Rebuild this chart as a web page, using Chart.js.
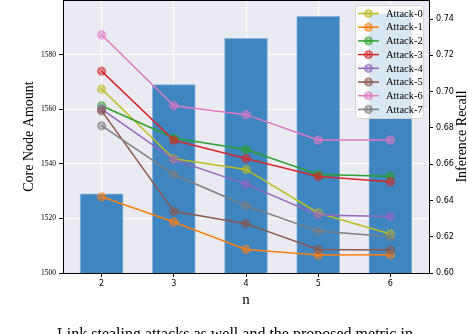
<!DOCTYPE html>
<html>
<head>
<meta charset="utf-8">
<script src="https://cdn.jsdelivr.net/npm/chart.js@4"></script>
<style>
  html, body { margin: 0; padding: 0; background: #fff; overflow: hidden; }
  #wrap { position: relative; width: 468px; height: 334px; }
</style>
</head>
<body>
<div id="wrap"><canvas id="Chart" width="468" height="334"></canvas></div>
<script>
// values
const nValues = [2, 3, 4, 5, 6];
const coreNodes = [1529, 1569, 1586, 1594, 1595];

const attackLabels = ['Attack-0', 'Attack-1', 'Attack-2', 'Attack-3', 'Attack-4', 'Attack-5', 'Attack-6', 'Attack-7'];
const attack0 = [0.7014, 0.6630, 0.6571, 0.6331, 0.6215];
const attack1 = [0.6420, 0.6281, 0.6130, 0.6099, 0.6101];
const attack2 = [0.6922, 0.6744, 0.6681, 0.6543, 0.6534];
const attack3 = [0.7113, 0.6732, 0.6631, 0.6532, 0.6503];
const attack4 = [0.6904, 0.6625, 0.6490, 0.6320, 0.6312];
const attack5 = [0.6894, 0.6340, 0.6272, 0.6130, 0.6127];
const attack6 = [0.7313, 0.6922, 0.6873, 0.6733, 0.6733];
const attack7 = [0.6812, 0.6543, 0.6371, 0.6231, 0.6200];

const leftTicks = [1500, 1520, 1540, 1560, 1580];
const rightTicks = [0.60, 0.62, 0.64, 0.66, 0.68, 0.70, 0.72, 0.74];

const attackSeries = [attack0, attack1, attack2, attack3, attack4, attack5, attack6, attack7];
const attackColors = ['#bcbd22', '#ff7f0e', '#2ca02c', '#d62728', '#9467bd', '#8c564b', '#e377c2', '#7f7f7f'];

const serif = '"Liberation Serif", "DejaVu Serif", serif';
const sans = '"DejaVu Sans", sans-serif';

// circle-with-cross marker
function makeMarker(color) {
  const c = document.createElement('canvas');
  c.width = 11; c.height = 11;
  const g = c.getContext('2d');
  g.strokeStyle = color;
  g.lineWidth = 1.1;
  g.globalAlpha = 0.35;
  g.fillStyle = color;
  g.beginPath(); g.arc(5.5, 5.5, 3.8, 0, Math.PI * 2); g.fill();
  g.globalAlpha = 1;
  g.beginPath(); g.arc(5.5, 5.5, 3.8, 0, Math.PI * 2); g.stroke();
  g.beginPath();
  g.moveTo(3, 3); g.lineTo(8, 8);
  g.moveTo(8, 3); g.lineTo(3, 8);
  g.lineWidth = 0.8;
  g.stroke();
  return c;
}
const markers = attackColors.map(makeMarker);

const lineSets = attackSeries.map((vals, i) => ({
  type: 'line',
  label: attackLabels[i],
  data: nValues.map((n, j) => ({ x: n, y: vals[j] })),
  yAxisID: 'y1',
  borderColor: attackColors[i],
  backgroundColor: attackColors[i],
  borderWidth: 1.5,
  pointStyle: markers[i],
  pointRadius: 4,
  tension: 0,
  order: 8 - i
}));

const barSet = {
  type: 'bar',
  label: 'Core Node Amount',
  data: nValues.map((n, j) => ({ x: n, y: coreNodes[j] })),
  yAxisID: 'y',
  backgroundColor: 'rgb(63,133,191)',
  borderColor: 'rgba(140,180,215,1)',
  borderWidth: 1,
  borderSkipped: 'bottom',
  barThickness: 43,
  order: 20
};

// no extra room above/below the plot for half tick labels
function noPad(s) {
  s.paddingTop = 0;
  s.paddingBottom = 0;
}

const extras = {
  id: 'extras',
  beforeDraw(chart) {
    const { ctx, chartArea: a } = chart;
    ctx.save();
    ctx.fillStyle = '#eaeaf2';
    ctx.fillRect(a.left, a.top, a.right - a.left, a.bottom - a.top);
    ctx.restore();
  },
  afterDraw(chart) {
    const { ctx, chartArea: a } = chart;
    ctx.save();
    // top frame line
    ctx.strokeStyle = '#000';
    ctx.lineWidth = 1;
    ctx.beginPath();
    ctx.moveTo(a.left, a.top + 0.5);
    ctx.lineTo(a.right, a.top + 0.5);
    ctx.stroke();

    // right axis title, reading upwards
    ctx.fillStyle = '#000';
    ctx.font = '14px ' + serif;
    ctx.textAlign = 'center';
    ctx.textBaseline = 'middle';
    ctx.translate(462.5, (a.top + a.bottom) / 2);
    ctx.rotate(-Math.PI / 2);
    ctx.fillText('Inference Recall', 0, 0);
    ctx.restore();

    // legend box
    ctx.save();
    const lx = 355, ly = 5.5, lw = 68, lh = 113;
    ctx.fillStyle = 'rgba(255,255,255,0.8)';
    ctx.strokeStyle = 'rgba(210,210,210,0.9)';
    ctx.lineWidth = 1;
    ctx.beginPath();
    ctx.roundRect(lx + 0.5, ly, lw, lh, 3);
    ctx.fill();
    ctx.stroke();
    ctx.font = '10.5px ' + serif;
    ctx.textAlign = 'left';
    ctx.textBaseline = 'middle';
    chart.data.datasets.filter(d => d.type === 'line').forEach((d, i) => {
      const y = 13.5 + i * 13.7;
      ctx.strokeStyle = d.borderColor;
      ctx.lineWidth = 1.5;
      ctx.beginPath();
      ctx.moveTo(358, y);
      ctx.lineTo(379, y);
      ctx.stroke();
      ctx.drawImage(d.pointStyle, 368.5 - 5.5, y - 5.5);
      ctx.fillStyle = '#000';
      ctx.fillText(d.label, 386, y + 0.5);
    });
    ctx.restore();

    // start of the caption line under the figure (cut off by the frame)
    ctx.save();
    ctx.fillStyle = '#000';
    ctx.font = '16px ' + serif;
    ctx.textBaseline = 'alphabetic';
    ctx.fillText('Link stealing attacks as well and the proposed metric in', 57, 339);
    ctx.restore();
  }
};

new Chart(document.getElementById('Chart'), {
  type: 'bar',
  data: { datasets: [...lineSets, barSet] },
  options: {
    responsive: false,
    animation: false,
    devicePixelRatio: 1,
    layout: { padding: 0, autoPadding: false },
    plugins: { legend: { display: false }, tooltip: { enabled: false } },
    scales: {
      x: {
        type: 'linear',
        offset: false,
        min: 1.465,
        max: 6.535,
        afterBuildTicks: s => { s.ticks = nValues.map(v => ({ value: v })); },
        afterFit: s => { s.height = 61; },
        grid: { offset: false, color: '#ffffff', lineWidth: 1, tickColor: '#000', tickLength: 4 },
        border: { color: '#000', width: 1 },
        ticks: { color: '#000', font: { family: sans, size: 8 }, padding: 2, maxRotation: 0 },
        title: { display: true, text: 'n', color: '#000', font: { family: serif, size: 15 }, padding: { top: 0, bottom: 25 } }
      },
      y: {
        type: 'linear',
        position: 'left',
        min: 1500,
        max: 1600,
        afterBuildTicks: s => { s.ticks = leftTicks.map(v => ({ value: v })); },
        afterFit: s => { s.width = 63; noPad(s); },
        grid: { color: '#ffffff', lineWidth: 1, tickColor: '#000', tickLength: 4 },
        border: { color: '#000', width: 1 },
        ticks: { color: '#000', font: { family: serif, size: 7.5 }, padding: 3, callback: v => String(v) },
        title: { display: true, text: 'Core Node Amount', color: '#000', font: { family: serif, size: 14 }, padding: { top: 21, bottom: 0 } }
      },
      y1: {
        type: 'linear',
        position: 'right',
        min: 0.60,
        max: 0.7505,
        afterBuildTicks: s => { s.ticks = rightTicks.map(v => ({ value: v })); },
        afterFit: s => { s.width = 39; noPad(s); },
        grid: { drawOnChartArea: false, tickColor: '#000', tickLength: 4 },
        border: { color: '#000', width: 1 },
        ticks: { color: '#000', font: { family: sans, size: 8 }, padding: 3, callback: v => v.toFixed(2) }
      }
    }
  },
  plugins: [extras]
});
</script>
</body>
</html>
